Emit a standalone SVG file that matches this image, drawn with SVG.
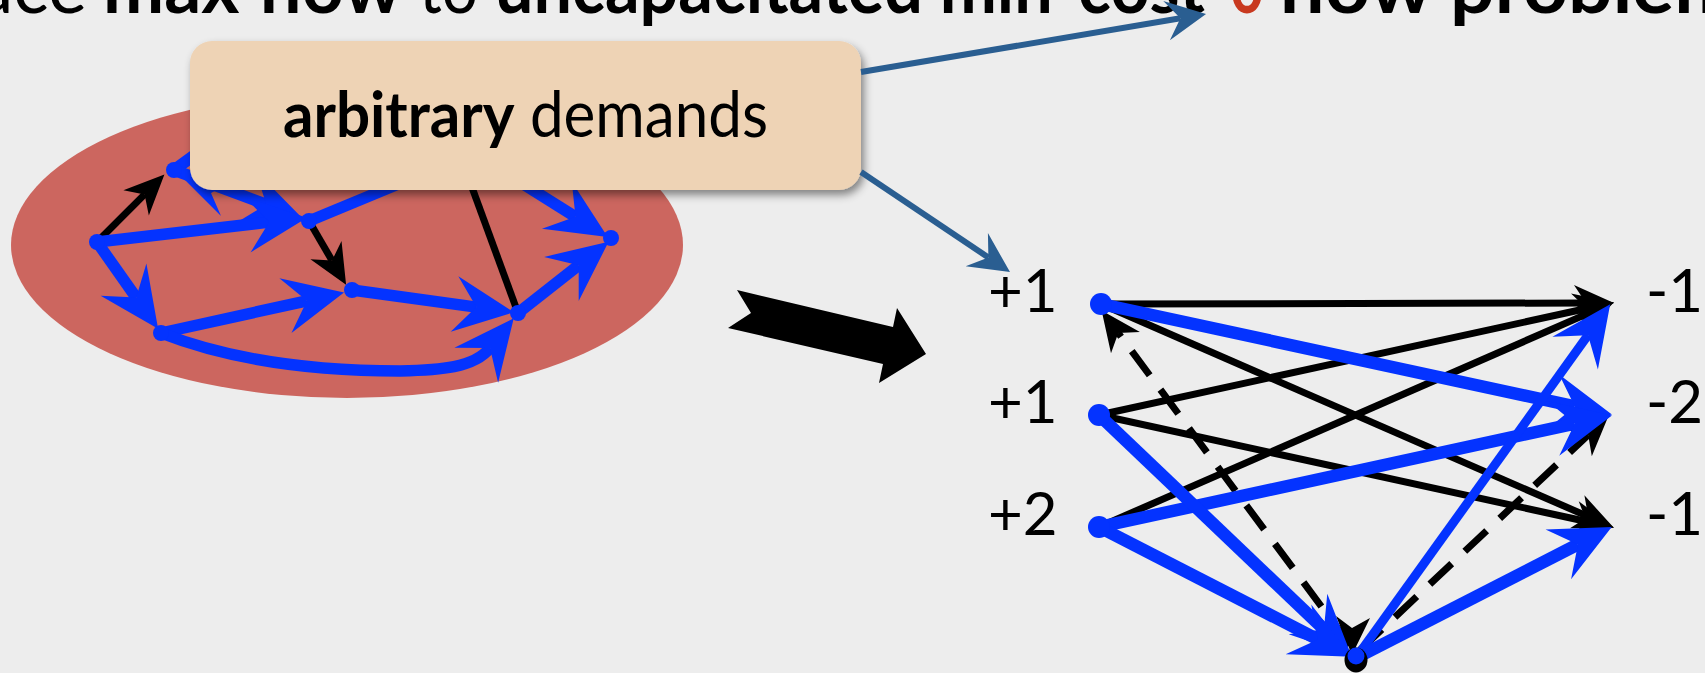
<svg xmlns="http://www.w3.org/2000/svg" width="1705" height="673" viewBox="0 0 1705 673">
<style>
.t{font-family:Lato,"Liberation Sans",sans-serif;fill:#000}
.b{font-weight:bold}
.lbl{font-family:Lato,"Liberation Sans",sans-serif;font-size:60px;fill:#000}
.eb{stroke:#0433FF;stroke-width:11.5;fill:none}
.ek{stroke:#000;stroke-width:7;fill:none}
.rb{stroke:#0433FF;stroke-width:12.5;fill:none}
.dk{stroke:#000;stroke-width:7;fill:none;stroke-dasharray:30 18}
.cn{stroke:#2A5E91;stroke-width:6;fill:none}
.dot{fill:#0433FF}
</style>
<defs>
<marker id="mb" markerUnits="userSpaceOnUse" orient="auto" refX="0" refY="0" markerWidth="100" markerHeight="100" overflow="visible"><path d="M38,0 L-22,-28 L0,0 L-22,28 Z" fill="#0433FF"/></marker>
<marker id="mk" markerUnits="userSpaceOnUse" orient="auto" refX="0" refY="0" markerWidth="100" markerHeight="100" overflow="visible"><path d="M28,0 L-12,-18 L0,0 L-12,18 Z" fill="#000"/></marker>
<marker id="mc" markerUnits="userSpaceOnUse" orient="auto" refX="0" refY="0" markerWidth="100" markerHeight="100" overflow="visible"><path d="M26,0 L-14,-20 L0,0 L-14,20 Z" fill="#2A5E91"/></marker>
<filter id="sh" x="-10%" y="-10%" width="130%" height="140%"><feDropShadow dx="3" dy="5" stdDeviation="4" flood-color="#000" flood-opacity="0.45"/></filter>
</defs>
<rect width="1705" height="673" fill="#EDEDED"/>
<g id="title" font-size="74">
<text class="t" x="87" y="13" text-anchor="end">ace</text>
<text class="t b" x="103" y="13" textLength="299" lengthAdjust="spacingAndGlyphs">max flow</text>
<text class="t" x="419" y="13" textLength="59" lengthAdjust="spacingAndGlyphs">to</text>
<text class="t b" x="495" y="13" textLength="710" lengthAdjust="spacingAndGlyphs">uncapacitated min-cost</text>
<text class="t b" x="1230" y="13" textLength="34" lengthAdjust="spacingAndGlyphs" style="fill:#C8391F">0</text>
<text class="t b" x="1277" y="13" textLength="463" lengthAdjust="spacingAndGlyphs">flow problem</text>
</g>
<g id="network">
<ellipse cx="347" cy="245" rx="336" ry="153" fill="#CC665F"/>
<g id="left-edges">
<line class="ek" x1="97" y1="242" x2="144.6" y2="194.4" marker-end="url(#mk)"/>
<line class="eb" x1="174" y1="170" x2="240" y2="122"/>
<line class="eb" x1="309" y1="221" x2="420" y2="175"/>
<line class="ek" x1="440" y1="100" x2="518" y2="313"/>
<line class="eb" x1="174" y1="170" x2="266.3" y2="204.4" marker-end="url(#mb)"/>
<polygon points="174,169 221,216 211,193 240,178" fill="#0433FF"/>
<line class="eb" x1="97" y1="242" x2="269.2" y2="222.1" marker-end="url(#mb)"/>
<line class="eb" x1="97" y1="242" x2="136.2" y2="297.6" marker-end="url(#mb)"/>
<line class="eb" x1="161" y1="333" x2="306.9" y2="300.8" marker-end="url(#mb)"/>
<line class="ek" x1="309" y1="221" x2="332" y2="260.5" marker-end="url(#mk)"/>
<line class="eb" x1="352" y1="290" x2="476.3" y2="307.1" marker-end="url(#mb)"/>
<path class="eb" d="M161,333 C235,362 320,371 400,371 C440,370 474,368 490,348" marker-end="url(#mb)"/>
<line class="eb" x1="518" y1="313" x2="578.7" y2="265.3" marker-end="url(#mb)"/>
<line class="eb" x1="450" y1="138" x2="575.5" y2="216.8" marker-end="url(#mb)"/>
</g>
<g id="left-nodes">
<circle class="dot" cx="97" cy="242" r="8"/>
<circle class="dot" cx="174" cy="170" r="8"/>
<circle class="dot" cx="309" cy="221" r="8"/>
<circle class="dot" cx="352" cy="290" r="8"/>
<circle class="dot" cx="161" cy="333" r="8"/>
<circle class="dot" cx="518" cy="313" r="8"/>
<circle class="dot" cx="611" cy="238" r="8"/>
</g>
</g>
<g id="box">
<rect x="190" y="41" width="671" height="149" rx="22" fill="#EED3B5" filter="url(#sh)"/>
<text class="t" x="283" y="137" font-size="63" textLength="485" lengthAdjust="spacingAndGlyphs"><tspan class="b">arbitrary</tspan> demands</text>
</g>
<g id="callouts">
<line class="cn" x1="861" y1="72" x2="1180.4" y2="18.3" marker-end="url(#mc)"/>
<line class="cn" x1="861" y1="172" x2="988.4" y2="257.5" marker-end="url(#mc)"/>
</g>
<g id="big-arrow">
<polygon points="737,290 893,327 897,308 926,354 879,383 883,364 728,328 751,313" fill="#000"/>
</g>
<g id="bipartite-edges">
<line class="ek" x1="1101" y1="304" x2="1586" y2="303" marker-end="url(#mk)"/>
<line class="ek" x1="1099" y1="415" x2="1586.6" y2="308.5" marker-end="url(#mk)"/>
<line class="ek" x1="1099" y1="527" x2="1588.2" y2="313.4" marker-end="url(#mk)"/>
<line class="ek" x1="1101" y1="304" x2="1588.2" y2="516.6" marker-end="url(#mk)"/>
<line class="ek" x1="1099" y1="415" x2="1586.6" y2="521.5" marker-end="url(#mk)"/>
<line class="dk" x1="1350" y1="645" x2="1118.3" y2="333" marker-end="url(#mk)"/>
<line class="dk" x1="1360" y1="650" x2="1588.2" y2="435" marker-end="url(#mk)"/>
<polygon points="1352,655 1336,616 1352,628 1370,618" fill="#000"/>
<line class="rb" x1="1101" y1="304" x2="1574.8" y2="406.4" marker-end="url(#mb)"/>
<line class="rb" x1="1099" y1="527" x2="1574.8" y2="423.6" marker-end="url(#mb)"/>
<line class="rb" x1="1099" y1="415" x2="1323.9" y2="629.2" marker-end="url(#mb)"/>
<line class="rb" x1="1099" y1="527" x2="1318" y2="639.5" marker-end="url(#mb)"/>
<line class="rb" style="stroke-width:9" x1="1356" y1="658" x2="1588" y2="335.2" marker-end="url(#mb)"/>
<line class="rb" x1="1356" y1="658" x2="1577.9" y2="544.4" marker-end="url(#mb)"/>
</g>
<g id="bipartite-nodes">
<circle class="dot" cx="1101" cy="304" r="11"/>
<circle class="dot" cx="1099" cy="415" r="11"/>
<circle class="dot" cx="1099" cy="527" r="11"/>
<ellipse cx="1356" cy="660" rx="11.5" ry="12.5" fill="#000"/>
<circle class="dot" cx="1356" cy="656" r="8.5"/>
<text class="lbl" x="988" y="312">+1</text>
<text class="lbl" x="988" y="423">+1</text>
<text class="lbl" x="988" y="535">+2</text>
<text class="lbl" x="1646" y="312">-1</text>
<text class="lbl" x="1646" y="423">-2</text>
<text class="lbl" x="1646" y="535">-1</text>
</g>
</svg>
